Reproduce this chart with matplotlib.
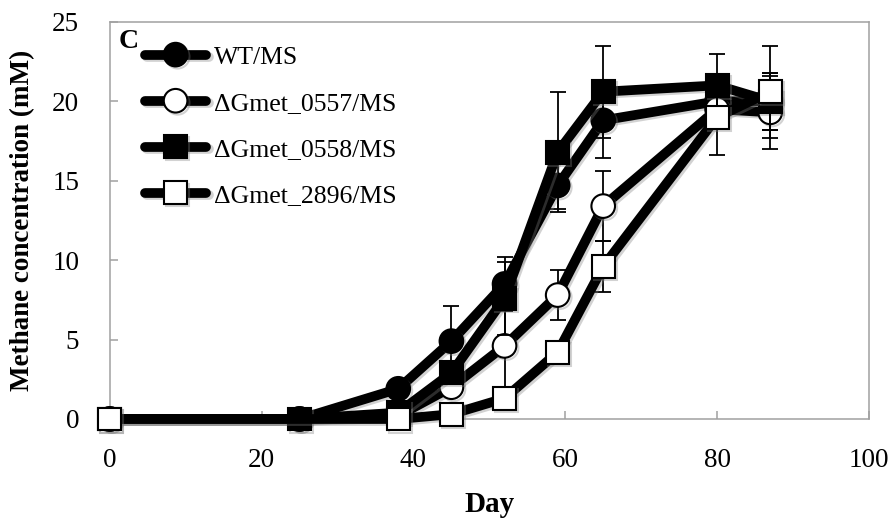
import numpy as np
import matplotlib
matplotlib.use("Agg")
import matplotlib.pyplot as plt
import matplotlib.patheffects as pe

plt.rcParams['font.family'] = ['Liberation Serif', 'DejaVu Serif']

# sampling days and methane (mM) per strain, with error bars
days = [0, 25, 38, 45, 52, 59, 65, 80, 87]

wt = [0, 0, 1.9, 4.9, 8.5, 14.7, 18.8, 20.0, 20.0]
wt_err = [0, 0, 0.3, 2.2, 1.7, 1.5, 2.4, 1.0, 1.8]

d0557 = [0, 0, 0.2, 2.0, 4.6, 7.8, 13.4, 19.5, 19.3]
d0557_err = [0, 0, 0.2, 0.5, 3.2, 1.6, 2.2, 1.0, 2.3]

d0558 = [0, 0, 0.4, 2.9, 7.6, 16.8, 20.6, 21.0, 20.0]
d0558_err = [0, 0, 0.2, 0.5, 2.3, 3.8, 2.9, 2.0, 1.8]

# 2896 was not sampled on day 25
days_2896 = [0, 38, 45, 52, 59, 65, 80, 87]
d2896 = [0, 0, 0.3, 1.3, 4.2, 9.6, 19.0, 20.6]
d2896_err = [0, 0, 0.2, 0.5, 0.5, 1.6, 2.4, 2.9]

labels = ['WT/MS', 'ΔGmet_0557/MS', 'ΔGmet_0558/MS', 'ΔGmet_2896/MS']

fig = plt.figure(figsize=(8.93, 5.24), dpi=100)
ax = fig.add_axes([0.123, 0.2004, 0.850, 0.758])

shadow = [pe.SimpleLineShadow(offset=(1.5, -1.5), shadow_color='gray', alpha=0.35), pe.Normal()]

series = [
    (days, wt, wt_err, 'o', 'black', 17),
    (days, d0557, d0557_err, 'o', 'white', 17),
    (days, d0558, d0558_err, 's', 'black', 16.5),
    (days_2896, d2896, d2896_err, 's', 'white', 16.5),
]

handles = []
for i, (x, vals, err, mk, fc, ms) in enumerate(series):
    z = 3 + i * 2
    ax.errorbar(x, vals, yerr=err, fmt='none', ecolor='black', elinewidth=1.3,
                capsize=5.5, capthick=1.3, zorder=z)
    ln, = ax.plot(x, vals, color='black', lw=7, marker=mk, ms=ms, mfc=fc,
                  mec='black', mew=1.5, solid_capstyle='round', zorder=z + 1,
                  label=labels[i], path_effects=shadow, clip_on=False)
    handles.append(ln)

ax.set_xlim(0, 100)
ax.set_ylim(0, 25)
ax.set_xticks([0, 20, 40, 60, 80, 100])
ax.set_yticks([0, 5, 10, 15, 20, 25])

for s in ax.spines.values():
    s.set_color('#a0a0a0')
    s.set_linewidth(1.1)

ax.tick_params(axis='both', direction='in', length=6, width=1.1, color='#a0a0a0',
               labelsize=19.5)
ax.tick_params(axis='x', pad=21)
ax.tick_params(axis='y', pad=22)

ax.set_xlabel('Day', fontsize=21, fontweight='bold', labelpad=13)
ax.set_ylabel('Methane concentration (mM)', fontsize=19.5, fontweight='bold', labelpad=12)

ax.text(0.011, 0.95, 'C', transform=ax.transAxes, fontsize=20, fontweight='bold',
        ha='left', va='center')

leg = ax.legend(handles=handles, loc='upper left', bbox_to_anchor=(0.046, 0.94),
                frameon=False, fontsize=18.5, handlelength=2.4, handletextpad=0.3,
                labelspacing=0.9, borderpad=0, borderaxespad=0)

fig.savefig('out.png', dpi=100)
